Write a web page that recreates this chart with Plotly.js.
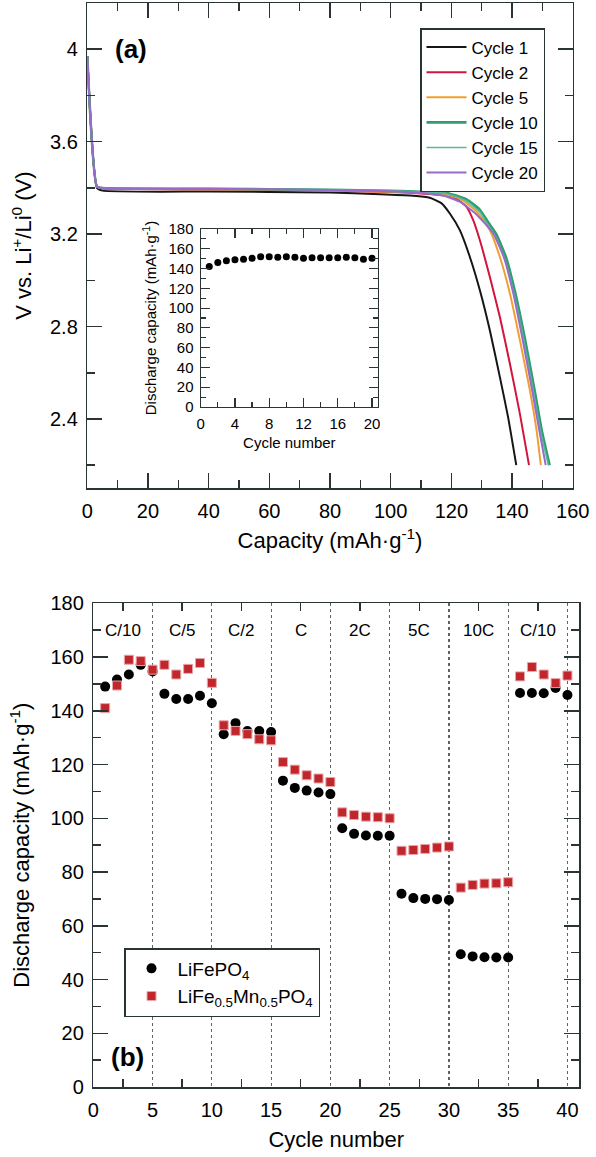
<!DOCTYPE html>
<html>
<head>
<meta charset="utf-8">
<script src="https://cdn.plot.ly/plotly-3.0.1.min.js"></script>
<style>html,body{margin:0;padding:0;background:#fff;}#chart{width:596px;height:1157px;}</style>
</head>
<body>
<div id="chart"></div>
<script>
// ---------- Panel (a): discharge curves ----------
const cycleNames = ['Cycle 1', 'Cycle 2', 'Cycle 5', 'Cycle 10', 'Cycle 15', 'Cycle 20'];
const capCycle1  = [0, 3.2, 5, 40, 80, 96.4, 107.4, 112.9, 116.8, 119.5, 122.8, 126.1, 129.4, 132.7, 136.0, 138.7, 141.4];
const voltCycle1 = [3.97, 3.40, 3.388, 3.384, 3.380, 3.372, 3.366, 3.357, 3.333, 3.289, 3.217, 3.101, 2.957, 2.783, 2.581, 2.408, 2.20];
const capCycle2  = [0, 3.2, 5, 40, 80, 100, 112, 120.6, 125.0, 127.2, 129.4, 132.7, 136.0, 139.3, 142.6, 145.6];
const voltCycle2 = [3.97, 3.405, 3.398, 3.394, 3.389, 3.382, 3.374, 3.361, 3.318, 3.260, 3.173, 3.014, 2.841, 2.639, 2.422, 2.20];
const capCycle5  = [0, 3.2, 5, 40, 80, 100, 112, 120, 123.9, 128.5, 132.7, 136.0, 139.3, 142.6, 145.9, 148.1, 149.5];
const voltCycle5 = [3.97, 3.405, 3.398, 3.394, 3.389, 3.383, 3.377, 3.366, 3.345, 3.295, 3.217, 3.101, 2.943, 2.740, 2.523, 2.350, 2.20];
const capCycle10  = [0, 3.2, 5, 40, 80, 100, 112, 118.4, 125.0, 129.4, 132.2, 134.8, 138.0, 141.0, 144.2, 147.5, 149.8, 152.4];
const voltCycle10 = [3.97, 3.405, 3.399, 3.396, 3.392, 3.387, 3.382, 3.378, 3.350, 3.305, 3.250, 3.200, 3.100, 2.950, 2.750, 2.520, 2.350, 2.20];
const capCycle15  = [0, 3.2, 5, 40, 80, 100, 112, 118.4, 125.0, 129.4, 132.0, 134.5, 137.7, 140.7, 143.9, 147.2, 149.5, 152.0];
const voltCycle15 = [3.97, 3.405, 3.399, 3.396, 3.392, 3.387, 3.381, 3.376, 3.343, 3.295, 3.240, 3.190, 3.090, 2.940, 2.740, 2.510, 2.340, 2.20];
const capCycle20  = [0, 3.2, 5, 40, 80, 100, 112, 117.5, 122.8, 128.3, 133.8, 137.3, 140.3, 143.4, 146.7, 149.0, 151.1];
const voltCycle20 = [3.97, 3.405, 3.400, 3.396, 3.391, 3.385, 3.376, 3.366, 3.340, 3.285, 3.203, 3.100, 2.950, 2.750, 2.520, 2.350, 2.20];
const cycleColors = ['#161616', '#d3143c', '#f0a032', '#2f9e6e', '#55bb9c', '#9a6acb'];

// ---------- Inset: discharge capacity vs cycle ----------
const insetCycles   = [1,2,3,4,5,6,7,8,9,10,11,12,13,14,15,16,17,18,19,20];
const insetCapacity = [142, 146, 148, 149, 149.5, 150.5, 152, 152, 151.5, 152, 151.5, 150.5, 151, 151, 151, 151, 151.5, 151, 149.5, 150.5];

// ---------- Panel (b): rate capability ----------
const rateCycles = [1,2,3,4,5,6,7,8,9,10,11,12,13,14,15,16,17,18,19,20,21,22,23,24,25,26,27,28,29,30,31,32,33,34,35,36,37,38,39,40];
const lfpCapacity = [149, 151.6, 153.5, 157.1, 154.6, 146.3, 144.4, 144.4, 145.6, 142.8,
                     131.3, 135.4, 132.5, 132.5, 132.1, 114, 111.3, 110.3, 109.6, 109,
                     96.3, 94.2, 93.6, 93.5, 93.5, 71.9, 70.3, 70.0, 69.9, 69.6,
                     49.4, 48.6, 48.3, 48.2, 48.2, 146.6, 146.6, 146.5, 148.5, 145.9];
const lfmpCapacity = [141, 149.4, 159, 158.5, 155.3, 157.1, 153.5, 155.6, 157.8, 150.4,
                      134.6, 132.5, 131.3, 129.4, 129, 120.9, 118.1, 116, 114.8, 113.5,
                      102.2, 101.2, 100.6, 100.4, 100, 87.9, 88.2, 88.6, 89.1, 89.5,
                      74.2, 75.2, 75.7, 75.8, 76.2, 152.8, 156.3, 153.5, 150.3, 153.1];
const rateLabels = ['C/10', 'C/5', 'C/2', 'C', '2C', '5C', '10C', 'C/10'];
const cyclesPerRate = 5;
const seriesNames = ['LiFePO<sub>4</sub>', 'LiFe<sub>0.5</sub>Mn<sub>0.5</sub>PO<sub>4</sub>'];

// ---------- Build ----------
const W = 596, H = 1157;
const FONT = 'Liberation Sans, Arial, Helvetica, sans-serif';
const AX = '#2b3434';
const dx = (a, b) => [a / W, b / W];
const dy = (top, bottom) => [1 - bottom / H, 1 - top / H];

const caps = [capCycle1, capCycle2, capCycle5, capCycle10, capCycle15, capCycle20];
const volts = [voltCycle1, voltCycle2, voltCycle5, voltCycle10, voltCycle15, voltCycle20];
const widths = [2, 2, 2, 2.6, 1.6, 2];

const traces = [];
cycleNames.forEach((name, i) => {
  traces.push({
    x: caps[i], y: volts[i], name: name, type: 'scatter', mode: 'lines',
    line: {color: cycleColors[i], width: widths[i], shape: 'spline', smoothing: 0.5},
    xaxis: 'x', yaxis: 'y', legend: 'legend'
  });
});
traces.push({
  x: insetCycles, y: insetCapacity, type: 'scatter', mode: 'markers', showlegend: false,
  marker: {color: '#000', size: 7}, xaxis: 'x2', yaxis: 'y2'
});
traces.push({
  x: rateCycles, y: lfpCapacity, name: seriesNames[0], type: 'scatter', mode: 'markers',
  marker: {color: '#000', size: 10, symbol: 'circle'}, xaxis: 'x3', yaxis: 'y3', legend: 'legend2'
});
traces.push({
  x: rateCycles, y: lfmpCapacity, name: seriesNames[1], type: 'scatter', mode: 'markers',
  marker: {color: '#c0262c', size: 9, symbol: 'square', line: {color: '#eaa6a8', width: 1}},
  xaxis: 'x3', yaxis: 'y3', legend: 'legend2'
});

function axis(extra) {
  return Object.assign({
    showline: true, linecolor: AX, linewidth: 1.5, mirror: 'ticks',
    ticks: 'inside', tickcolor: AX, tickwidth: 1.5, zeroline: false, showgrid: false,
    tickfont: {family: FONT, size: 20, color: '#000'}, ticklabelstandoff: 4,
    fixedrange: true
  }, extra);
}
function minor(dt, len) {
  return {ticks: 'inside', dtick: dt, ticklen: len, tickcolor: AX, tickwidth: 1.5, showgrid: false};
}

const annotations = [
  {text: '<b>(a)</b>', x: 14.4, y: 4.0, xref: 'x', yref: 'y', showarrow: false,
   font: {family: FONT, size: 26, color: '#000'}},
  {text: '<b>(b)</b>', x: 2.85, y: 11, xref: 'x3', yref: 'y3', showarrow: false,
   font: {family: FONT, size: 26, color: '#000'}}
];
rateLabels.forEach((lab, i) => {
  annotations.push({text: lab, x: i * cyclesPerRate + cyclesPerRate / 2, y: 170, xref: 'x3', yref: 'y3',
    showarrow: false, font: {family: FONT, size: 17, color: '#000'}});
});

const layout = {
  width: W, height: H, margin: {l: 0, r: 0, t: 0, b: 0},
  paper_bgcolor: '#fff', plot_bgcolor: 'rgba(0,0,0,0)',
  font: {family: FONT, color: '#000'},
  showlegend: true,
  xaxis: axis({domain: dx(87.3, 572.7), anchor: 'y', range: [0, 160], dtick: 20, tick0: 0, ticklen: 15,
    minor: minor(10, 8),
    title: {text: 'Capacity (mAh·g<sup>-1</sup>)', font: {family: FONT, size: 22}, standoff: 12}}),
  yaxis: axis({domain: dy(3, 488.3), anchor: 'x', range: [2.1, 4.2], dtick: 0.4, tick0: 0, ticklen: 15,
    minor: minor(0.2, 8),
    title: {text: 'V vs. Li<sup>+</sup>/Li<sup>0</sup> (V)', font: {family: FONT, size: 22}, standoff: 12}}),
  xaxis2: axis({domain: dx(200.7, 378), anchor: 'y2', range: [0, 20.7], dtick: 4, tick0: 0, ticklen: 9,
    minor: Object.assign(minor(2, 5), {tickwidth: 1.2}), linewidth: 1.2, tickwidth: 1.2,
    tickfont: {family: FONT, size: 15, color: '#000'}, ticklabelstandoff: 3,
    title: {text: 'Cycle number', font: {family: FONT, size: 15}, standoff: 6}}),
  yaxis2: axis({domain: dy(229, 407), anchor: 'x2', range: [0, 180], dtick: 20, tick0: 0, ticklen: 9,
    minor: Object.assign(minor(10, 5), {tickwidth: 1.2}), linewidth: 1.2, tickwidth: 1.2,
    tickfont: {family: FONT, size: 15, color: '#000'}, ticklabelstandoff: 3,
    title: {text: 'Discharge capacity (mAh·g<sup>-1</sup>)', font: {family: FONT, size: 15}, standoff: 8}}),
  xaxis3: axis({domain: dx(93.3, 579.3), anchor: 'y3', range: [0, 41], dtick: 5, tick0: 0, ticklen: 0,
    showgrid: true, griddash: 'dot', gridcolor: '#5a6464', gridwidth: 1.2,
    minor: minor(2.5, 8),
    title: {text: 'Cycle number', font: {family: FONT, size: 22}, standoff: 12}}),
  yaxis3: axis({domain: dy(603.3, 1087), anchor: 'x3', range: [0, 180], dtick: 20, tick0: 0, ticklen: 15,
    minor: minor(10, 8),
    title: {text: 'Discharge capacity (mAh·g<sup>-1</sup>)', font: {family: FONT, size: 22}, standoff: 14}}),
  legend: {x: 420 / W, y: 1 - 28 / H, xanchor: 'left', yanchor: 'top', bgcolor: '#fff',
    bordercolor: AX, borderwidth: 1.5, font: {family: FONT, size: 17, color: '#000'},
    itemwidth: 40, tracegroupgap: 0},
  legend2: {x: 124 / W, y: 1 - 948 / H, xanchor: 'left', yanchor: 'top', bgcolor: '#fff',
    bordercolor: AX, borderwidth: 1.5, font: {family: FONT, size: 19, color: '#000'},
    itemwidth: 42, tracegroupgap: 0},
  annotations: annotations
};

Plotly.newPlot('chart', traces, layout, {displayModeBar: false, staticPlot: true});
</script>
</body>
</html>
